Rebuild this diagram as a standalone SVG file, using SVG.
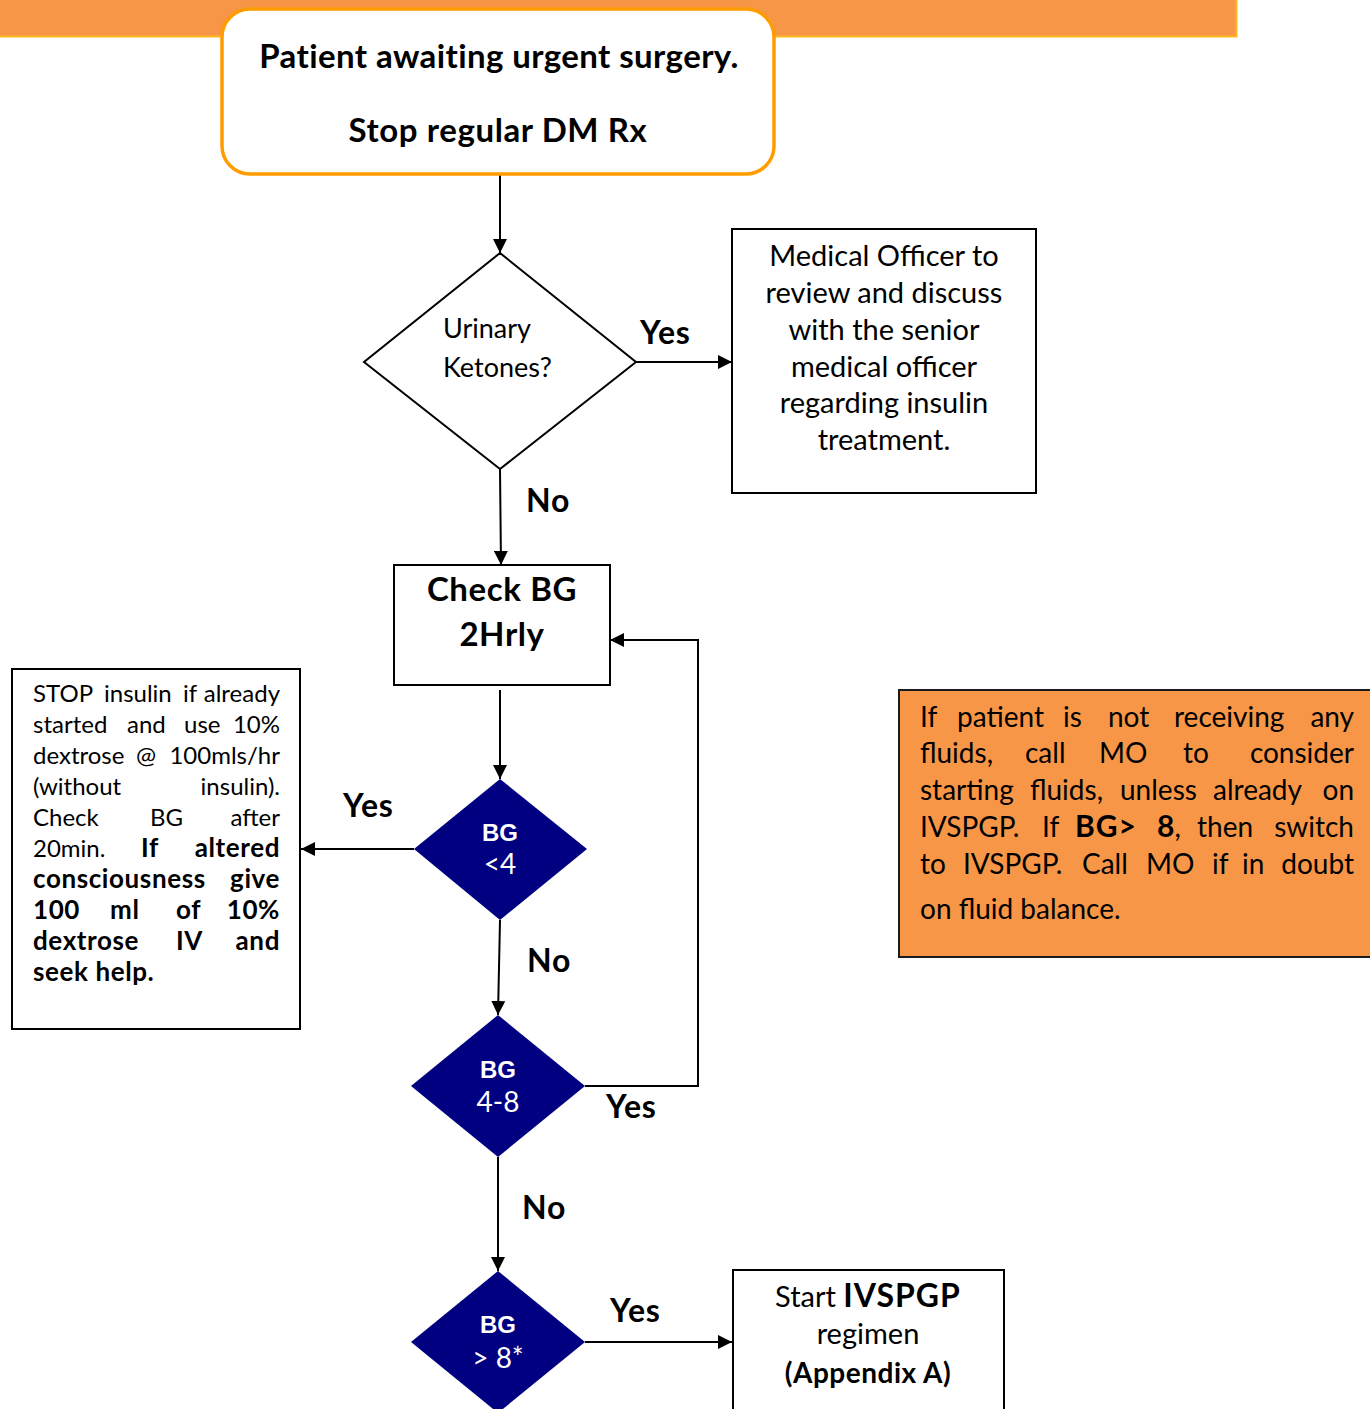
<svg xmlns="http://www.w3.org/2000/svg" width="1370" height="1409" viewBox="0 0 1370 1409">
<defs>
<style>
.t{font-family:Lato,"Open Sans","Liberation Sans",sans-serif;fill:#000}
.b{font-weight:bold}
.c{text-anchor:middle}
.e{text-anchor:end}
.lbl{font-family:Lato,"Open Sans","Liberation Sans",sans-serif;font-weight:bold;font-size:32px;letter-spacing:0.8px;fill:#000}
.box{fill:#fff;stroke:#000;stroke-width:2}
.dia{fill:#000080;stroke:none}
.wd{font-family:"Liberation Sans",Arial,sans-serif;font-weight:bold;font-size:24px;fill:#fff;text-anchor:middle}
.wn{font-family:Lato,"Liberation Sans",sans-serif;font-size:28px;fill:#fff;text-anchor:middle}
.conn{fill:none;stroke:#000;stroke-width:2}
.lb{font-weight:bold;font-size:26px;letter-spacing:0.6px}
</style>
<marker id="ah" markerUnits="userSpaceOnUse" markerWidth="14" markerHeight="14" refX="14" refY="7" orient="auto">
<path d="M0,0 L14,7 L0,14 z" fill="#000"/>
</marker>
</defs>
<rect width="1370" height="1409" fill="#fff"/>
<g id="banner">
<rect x="0" y="0" width="1237" height="37" fill="#F79646"/>
<path d="M0,36.5 H1236.5 V0" fill="none" stroke="#FFB81C" stroke-width="2"/>
</g>
<g id="connectors">
<path class="conn" d="M500,174 V253" marker-end="url(#ah)"/>
<path class="conn" d="M636,362 H732" marker-end="url(#ah)"/>
<path class="conn" d="M500,469 L501,565" marker-end="url(#ah)"/>
<path class="conn" d="M500,690 V779" marker-end="url(#ah)"/>
<path class="conn" d="M414,849 H301" marker-end="url(#ah)"/>
<path class="conn" d="M500,920 L498,1015" marker-end="url(#ah)"/>
<path class="conn" d="M585,1086 H698 V640 H610" marker-end="url(#ah)"/>
<path class="conn" d="M498,1157 V1271" marker-end="url(#ah)"/>
<path class="conn" d="M585,1342 H732" marker-end="url(#ah)"/>
<text class="lbl" x="640" y="344">Yes</text>
<text class="lbl" x="526" y="512">No</text>
<text class="lbl" x="343" y="817">Yes</text>
<text class="lbl" x="527" y="972">No</text>
<text class="lbl" x="606" y="1118">Yes</text>
<text class="lbl" x="522" y="1219">No</text>
<text class="lbl" x="610" y="1322">Yes</text>
</g>
<g id="start">
<rect x="222" y="9" width="552" height="165" rx="28" ry="28" fill="#fff" stroke="#FF9C00" stroke-width="3.5"/>
<text class="t b c" x="499" y="68" font-size="33" letter-spacing="0.4">Patient awaiting urgent surgery.</text>
<text class="t b c" x="498" y="142" font-size="33" letter-spacing="0.6">Stop regular DM Rx</text>
</g>
<g id="ketones">
<polygon points="500,253 636,362 500,469 364,362" fill="#fff" stroke="#000" stroke-width="2"/>
<text class="t" x="443" y="338" font-size="27">Urinary</text>
<text class="t" x="443" y="377" font-size="27">Ketones?</text>
</g>
<g id="medical-officer">
<rect class="box" x="732" y="229" width="304" height="264"/>
<g class="t c" font-size="29">
<text x="884" y="266">Medical Officer to</text>
<text x="884" y="303">review and discuss</text>
<text x="884" y="340">with the senior</text>
<text x="884" y="377">medical officer</text>
<text x="884" y="413">regarding insulin</text>
<text x="884" y="450">treatment.</text>
</g>
</g>
<g id="check-bg">
<rect class="box" x="394" y="565" width="216" height="120"/>
<text class="t b c" x="502" y="601" font-size="33" letter-spacing="0.6">Check BG</text>
<text class="t b c" x="502" y="646" font-size="33" letter-spacing="0.6">2Hrly</text>
</g>
<g id="bg-lt4">
<polygon class="dia" points="500,779 587,849 500,920 414,849"/>
<text class="wd" x="500" y="841">BG</text>
<text class="wn" x="500" y="874">&lt;4</text>
</g>
<g id="stop-insulin">
<rect class="box" x="12" y="669" width="288" height="360"/>
<g class="t" font-size="24">
<text y="702"><tspan x="33">STOP</tspan><tspan x="104">insulin</tspan><tspan x="183">if</tspan><tspan x="280" text-anchor="end">already</tspan></text>
<text y="733"><tspan x="33">started</tspan><tspan x="127">and</tspan><tspan x="184">use</tspan><tspan x="280" text-anchor="end">10%</tspan></text>
<text y="764"><tspan x="33">dextrose</tspan><tspan x="136">@</tspan><tspan x="280" text-anchor="end">100mls/hr</tspan></text>
<text y="795"><tspan x="33">(without</tspan><tspan x="280" text-anchor="end">insulin).</tspan></text>
<text y="826"><tspan x="33">Check</tspan><tspan x="150">BG</tspan><tspan x="280" text-anchor="end">after</tspan></text>
<text y="857"><tspan x="33">20min.</tspan><tspan x="141" class="lb">If</tspan><tspan x="280" text-anchor="end" class="lb">altered</tspan></text>
<text y="888" class="lb"><tspan x="33">consciousness</tspan><tspan x="280" text-anchor="end">give</tspan></text>
<text y="919" class="lb"><tspan x="33">100</tspan><tspan x="110">ml</tspan><tspan x="176">of</tspan><tspan x="280" text-anchor="end">10%</tspan></text>
<text y="950" class="lb"><tspan x="33">dextrose</tspan><tspan x="176">IV</tspan><tspan x="280" text-anchor="end">and</tspan></text>
<text y="981" class="lb" x="33">seek help.</text>
</g>
</g>
<g id="fluids-note">
<rect x="899" y="690" width="480" height="267" fill="#F79646" stroke="#1a1a1a" stroke-width="2"/>
<g class="t" font-size="28">
<text y="727"><tspan x="920">If</tspan><tspan x="957">patient</tspan><tspan x="1063">is</tspan><tspan x="1108">not</tspan><tspan x="1174">receiving</tspan><tspan x="1354" text-anchor="end">any</tspan></text>
<text y="763"><tspan x="920">fluids,</tspan><tspan x="1025">call</tspan><tspan x="1099">MO</tspan><tspan x="1183">to</tspan><tspan x="1354" text-anchor="end">consider</tspan></text>
<text y="800"><tspan x="920">starting</tspan><tspan x="1030">fluids,</tspan><tspan x="1120">unless</tspan><tspan x="1213">already</tspan><tspan x="1354" text-anchor="end">on</tspan></text>
<text y="837"><tspan x="920">IVSPGP.</tspan><tspan x="1042">If</tspan><tspan x="1075" font-weight="bold" font-size="30" letter-spacing="1">BG&gt;</tspan><tspan x="1157" font-weight="bold" font-size="30">8</tspan><tspan>,</tspan><tspan x="1197">then</tspan><tspan x="1354" text-anchor="end">switch</tspan></text>
<text y="874"><tspan x="920">to</tspan><tspan x="963">IVSPGP.</tspan><tspan x="1082">Call</tspan><tspan x="1146">MO</tspan><tspan x="1212">if</tspan><tspan x="1242">in</tspan><tspan x="1354" text-anchor="end">doubt</tspan></text>
<text y="919" x="920">on fluid balance.</text>
</g>
</g>
<g id="bg-4-8">
<polygon class="dia" points="498,1015 585,1086 498,1157 411,1086"/>
<text class="wd" x="498" y="1078">BG</text>
<text class="wn" x="498" y="1112">4-8</text>
</g>
<g id="bg-gt8">
<polygon class="dia" points="498,1271 585,1342 498,1413 411,1342"/>
<text class="wd" x="498" y="1333">BG</text>
<text class="wn" x="498" y="1368">&gt; 8*</text>
</g>
<g id="ivspgp">
<rect class="box" x="733" y="1270" width="271" height="160"/>
<text class="t c" x="868" y="1307" font-size="29">Start <tspan font-weight="bold" font-size="32" letter-spacing="1">IVSPGP</tspan></text>
<text class="t c" x="868" y="1344" font-size="29">regimen</text>
<text class="t b c" x="868" y="1383" font-size="28" letter-spacing="0.5">(Appendix A)</text>
</g>
</svg>
